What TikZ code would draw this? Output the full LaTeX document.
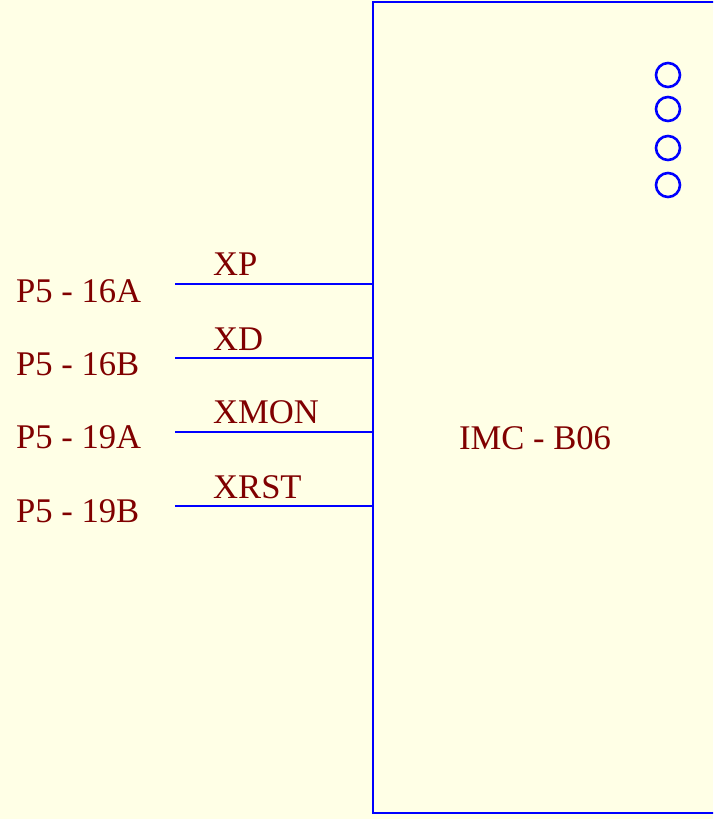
\documentclass[tikz,border=0pt]{standalone}
\usepackage{fontspec}
\setmainfont{Liberation Serif}
\definecolor{bgc}{HTML}{FFFFE6}
\definecolor{txt}{HTML}{800000}
\definecolor{wire}{HTML}{0000FF}
\begin{document}
\begin{tikzpicture}[x=1pt,y=-1pt,
  lbl/.style={anchor=base west,inner sep=0pt,text=txt,font=\fontsize{34.6}{40}\selectfont},
  wireline/.style={draw=wire,line width=2.6pt},
  pin/.style={circle,draw=wire,line width=2.6pt,minimum size=24pt,inner sep=0pt}]
\useasboundingbox (0,0) rectangle (713,819);
\fill[bgc] (0,0) rectangle (713,819);
\clip (0,0) rectangle (713,819);
\node[draw=wire,line width=2.6pt,minimum width=367pt,minimum height=811pt,inner sep=0pt] (box) at (556.5,407.5) {};
\node[lbl,anchor=base] (imc) at (535,449) {IMC - B06};
\foreach \n/\y in {1/75,2/109,3/148,4/185}
  \node[pin] (c\n) at (668,\y) {};
\foreach \n/\y/\l/\s/\sb/\lb in {1/284/P5 - 16A/XP/275/302, 2/358/P5 - 16B/XD/350/375, 3/432/P5 - 19A/XMON/423/448, 4/506/P5 - 19B/XRST/498/522}{
  \coordinate (w\n) at (175,\y);
  \draw[wireline] (w\n) -- (w\n -| box.west);
  \node[lbl] (s\n) at (213,\sb) {\s};
  \node[lbl] (p\n) at (16,\lb) {\l};
}
\end{tikzpicture}
\end{document}
